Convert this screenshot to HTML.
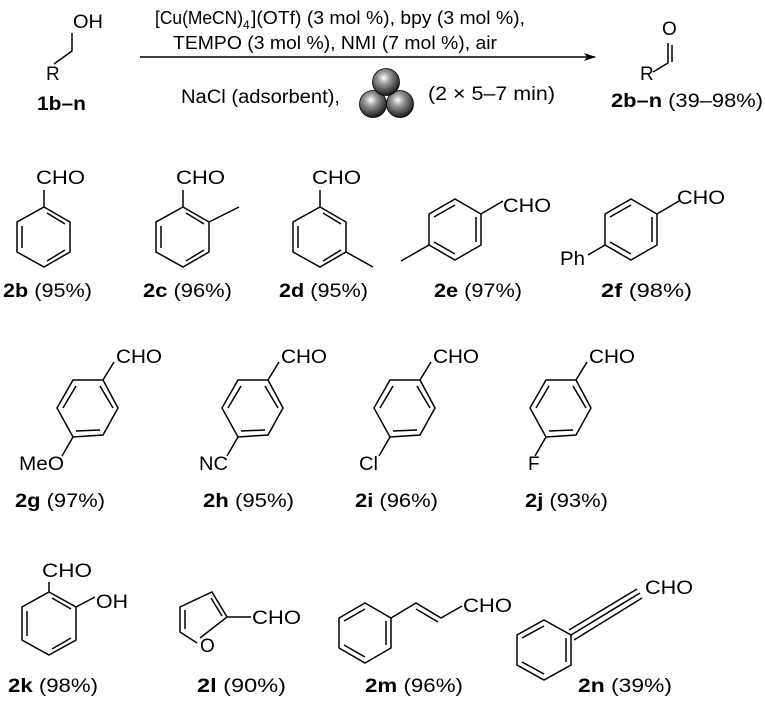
<!DOCTYPE html>
<html><head><meta charset="utf-8"><style>
html,body{margin:0;padding:0;background:#fff;width:765px;height:708px;overflow:hidden}
svg{display:block}
text{font-family:"Liberation Sans",sans-serif;font-size:19px;fill:#000}
.b{font-weight:bold}
</style></head><body>
<svg width="765" height="708" viewBox="0 0 765 708">
<defs>
<radialGradient id="g" cx="0.42" cy="0.35" r="0.65">
<stop offset="0" stop-color="#ffffff"/><stop offset="0.35" stop-color="#9a9a9a"/><stop offset="1" stop-color="#1a1a1a"/></radialGradient>
<marker id="ah" markerWidth="12" markerHeight="8" refX="11" refY="4" orient="auto" markerUnits="userSpaceOnUse"><path d="M0,0 L12,4 L0,8 L3,4z" fill="#000"/></marker>
</defs>
<g stroke="#000" stroke-width="1.5" fill="none">
<polyline points="54,64 72,51 72,33"/>
<line x1="140" y1="57" x2="595" y2="57" marker-end="url(#ah)"/>
<polyline points="653,72 668,63 668,43"/>
<line x1="672" y1="45" x2="672" y2="62"/>
</g>
<text x="73" y="28" textLength="30" lengthAdjust="spacingAndGlyphs">OH</text>
<text x="46" y="80">R</text>
<text x="37" y="110" class="b" textLength="49" lengthAdjust="spacingAndGlyphs">1b–n</text>
<text x="155" y="24" style="font-size:18px" textLength="88" lengthAdjust="spacingAndGlyphs">[Cu(MeCN)</text>
<text x="243" y="29" style="font-size:12px">4</text>
<text x="251" y="24" style="font-size:18px" textLength="274" lengthAdjust="spacingAndGlyphs">](OTf) (3 mol %), bpy (3 mol %),</text>
<text x="173" y="49" style="font-size:18px" textLength="324" lengthAdjust="spacingAndGlyphs">TEMPO (3 mol %), NMI (7 mol %), air</text>
<text x="181" y="103" textLength="159" lengthAdjust="spacingAndGlyphs">NaCl (adsorbent),</text>
<circle cx="373" cy="104" r="13.5" fill="url(#g)" stroke="#000" stroke-width="0.8"/>
<circle cx="400" cy="104" r="13.5" fill="url(#g)" stroke="#000" stroke-width="0.8"/>
<circle cx="386" cy="82" r="13.5" fill="url(#g)" stroke="#000" stroke-width="0.8"/>
<text x="428" y="100" textLength="127" lengthAdjust="spacingAndGlyphs">(2 × 5–7 min)</text>
<text x="662" y="35">O</text>
<text x="640" y="80">R</text>
<text x="611" y="107" textLength="152" lengthAdjust="spacingAndGlyphs"><tspan class="b">2b–n</tspan> (39–98%)</text>

<g stroke="#000" stroke-width="1.5" fill="none">
<polygon points="44,207 70,222 70,252 44,267 17,252 17,222"/>
<line x1="44" y1="207" x2="44" y2="190"/>
<line x1="47" y1="213" x2="65" y2="224"/><line x1="65" y1="250" x2="47" y2="261"/><line x1="22" y1="226" x2="22" y2="248"/>
<polygon points="183,207 209,222 209,252 183,267 156,252 156,222"/>
<line x1="183" y1="207" x2="183" y2="190"/><line x1="209" y1="222" x2="239" y2="207"/>
<line x1="186" y1="213" x2="204" y2="224"/><line x1="204" y1="250" x2="186" y2="261"/><line x1="161" y1="226" x2="161" y2="248"/>
<polygon points="320,207 346,222 346,252 320,267 293,252 293,222"/>
<line x1="320" y1="207" x2="320" y2="190"/><line x1="346" y1="252" x2="373" y2="267"/>
<line x1="323" y1="213" x2="341" y2="224"/><line x1="341" y1="250" x2="323" y2="261"/><line x1="298" y1="226" x2="298" y2="248"/>
<polygon points="455,199 481,214 481,245 455,260 429,245 429,214"/>
<line x1="481" y1="214" x2="503" y2="201"/><line x1="429" y1="245" x2="401" y2="261"/>
<line x1="455" y1="205" x2="434" y2="217"/><line x1="476" y1="217" x2="476" y2="242"/><line x1="455" y1="254" x2="434" y2="242"/>
<polygon points="631,199 657,214 657,245 631,260 605,245 605,214"/>
<line x1="657" y1="214" x2="679" y2="201"/><line x1="605" y1="245" x2="588" y2="255"/>
<line x1="631" y1="205" x2="610" y2="217"/><line x1="652" y1="217" x2="652" y2="242"/><line x1="631" y1="254" x2="610" y2="242"/>
</g>
<text x="36" y="184" textLength="49" lengthAdjust="spacingAndGlyphs">CHO</text><text x="3" y="297" textLength="89" lengthAdjust="spacingAndGlyphs"><tspan class="b">2b</tspan> (95%)</text>
<text x="176" y="184" textLength="49" lengthAdjust="spacingAndGlyphs">CHO</text><text x="143" y="297" textLength="89" lengthAdjust="spacingAndGlyphs"><tspan class="b">2c</tspan> (96%)</text>
<text x="312" y="184" textLength="49" lengthAdjust="spacingAndGlyphs">CHO</text><text x="279" y="297" textLength="89" lengthAdjust="spacingAndGlyphs"><tspan class="b">2d</tspan> (95%)</text>
<text x="503" y="212" textLength="48" lengthAdjust="spacingAndGlyphs">CHO</text><text x="434" y="297" textLength="88" lengthAdjust="spacingAndGlyphs"><tspan class="b">2e</tspan> (97%)</text>
<text x="560" y="265" textLength="25" lengthAdjust="spacingAndGlyphs">Ph</text>
<text x="677" y="204" textLength="48" lengthAdjust="spacingAndGlyphs">CHO</text><text x="601" y="297" textLength="91" lengthAdjust="spacingAndGlyphs"><tspan class="b">2f</tspan> (98%)</text>

<g id="r2">
<g stroke="#000" stroke-width="1.5" fill="none">
<polygon points="73,380 103,380 118,408 103,435 73,437 57,408"/>
<line x1="103" y1="380" x2="114" y2="362"/>
<line x1="73" y1="437" x2="62" y2="456"/>
<line x1="76" y1="386" x2="63" y2="408"/>
<line x1="100" y1="386" x2="113" y2="408"/>
<line x1="76" y1="431" x2="100" y2="430"/>
</g>
</g>
<use href="#r2" transform="translate(165,0)"/>
<use href="#r2" transform="translate(317,0)"/>
<use href="#r2" transform="translate(473,0)"/>
<text x="116" y="363" textLength="46" lengthAdjust="spacingAndGlyphs">CHO</text><text x="19" y="470" textLength="45" lengthAdjust="spacingAndGlyphs">MeO</text><text x="15" y="507" textLength="90" lengthAdjust="spacingAndGlyphs"><tspan class="b">2g</tspan> (97%)</text>
<text x="281" y="363" textLength="46" lengthAdjust="spacingAndGlyphs">CHO</text><text x="199" y="470" textLength="29" lengthAdjust="spacingAndGlyphs">NC</text><text x="203" y="507" textLength="91" lengthAdjust="spacingAndGlyphs"><tspan class="b">2h</tspan> (95%)</text>
<text x="433" y="363" textLength="46" lengthAdjust="spacingAndGlyphs">CHO</text><text x="359" y="470" textLength="19" lengthAdjust="spacingAndGlyphs">Cl</text><text x="355" y="507" textLength="83" lengthAdjust="spacingAndGlyphs"><tspan class="b">2i</tspan> (96%)</text>
<text x="589" y="363" textLength="46" lengthAdjust="spacingAndGlyphs">CHO</text><text x="528" y="470">F</text><text x="525" y="507" textLength="83" lengthAdjust="spacingAndGlyphs"><tspan class="b">2j</tspan> (93%)</text>

<g stroke="#000" stroke-width="1.5" fill="none">
<polygon points="49,592 76,607 76,640 49,655 22,640 22,607"/>
<line x1="49" y1="592" x2="49" y2="582"/><line x1="76" y1="607" x2="95" y2="597"/>
<line x1="52" y1="598" x2="71" y2="609"/><line x1="27" y1="611" x2="27" y2="636"/><line x1="71" y1="638" x2="52" y2="649"/>
<polyline points="197,643 180,632 180,607 212,592 227,617 200,638"/>
<line x1="227" y1="617" x2="251" y2="617"/>
<line x1="185" y1="610" x2="185" y2="629"/><line x1="211" y1="598" x2="222" y2="616"/>
<polygon points="365,603 391,618 391,648 365,663 339,648 339,618"/>
<polyline points="391,618 416,603 441,618 462,606"/>
<line x1="365" y1="609" x2="344" y2="621"/><line x1="386" y1="621" x2="386" y2="645"/><line x1="365" y1="657" x2="344" y2="645"/>
<line x1="416" y1="609" x2="438" y2="622"/>
<polygon points="544,620 571,635 571,665 544,680 517,665 517,635"/>
<line x1="571" y1="635" x2="640" y2="593"/>
<line x1="569" y1="630" x2="637" y2="589"/><line x1="574" y1="640" x2="642" y2="598"/>
<line x1="544" y1="626" x2="522" y2="638"/><line x1="566" y1="638" x2="566" y2="662"/><line x1="544" y1="674" x2="522" y2="662"/>
</g>
<text x="42" y="577" textLength="50" lengthAdjust="spacingAndGlyphs">CHO</text><text x="96" y="608" textLength="32" lengthAdjust="spacingAndGlyphs">OH</text><text x="8" y="692" textLength="90" lengthAdjust="spacingAndGlyphs"><tspan class="b">2k</tspan> (98%)</text>
<text x="200" y="652">O</text><text x="252" y="624" textLength="49" lengthAdjust="spacingAndGlyphs">CHO</text><text x="197" y="692" textLength="89" lengthAdjust="spacingAndGlyphs"><tspan class="b">2l</tspan> (90%)</text>
<text x="463" y="612" textLength="49" lengthAdjust="spacingAndGlyphs">CHO</text><text x="365" y="692" textLength="98" lengthAdjust="spacingAndGlyphs"><tspan class="b">2m</tspan> (96%)</text>
<text x="645" y="594" textLength="48" lengthAdjust="spacingAndGlyphs">CHO</text><text x="578" y="692" textLength="94" lengthAdjust="spacingAndGlyphs"><tspan class="b">2n</tspan> (39%)</text>
</svg>
</body></html>
